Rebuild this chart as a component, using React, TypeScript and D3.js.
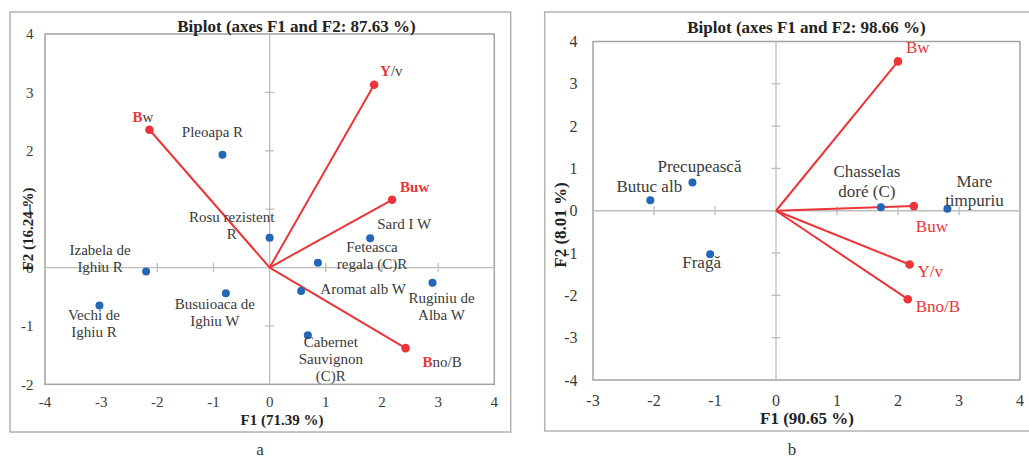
import React from "react";
import * as d3 from "d3";

// ---------- Data: panel a ----------
const aTitle = "Biplot (axes F1 and F2: 87.63 %)";
const aXTitle = "F1 (71.39 %)";
const aYTitle = "F2 (16.24 %)";
const aObsNames = [
  ["Pleoapa R"],
  ["Rosu rezistent", "R"],
  ["Izabela de", "Ighiu R"],
  ["Vechi de", "Ighiu R"],
  ["Busuioaca de", "Ighiu W"],
  ["Sard I W"],
  ["Feteasca", "regala (C)R"],
  ["Aromat alb W"],
  ["Ruginiu de", "Alba W"],
  ["Cabernet", "Sauvignon", "(C)R"],
];
const aObsX = [-0.84, 0.0, -2.2, -3.03, -0.78, 1.79, 0.86, 0.56, 2.9, 0.68];
const aObsY = [1.93, 0.51, -0.07, -0.65, -0.44, 0.5, 0.08, -0.4, -0.26, -1.16];
const aVarNames = ["Bw", "Y/v", "Buw", "Bno/B"];
const aVarX = [-2.14, 1.86, 2.18, 2.42];
const aVarY = [2.36, 3.13, 1.16, -1.38];
const aXTicks = [-4, -3, -2, -1, 0, 1, 2, 3, 4];
const aYTicks = [-2, -1, 0, 1, 2, 3, 4];

// ---------- Data: panel b ----------
const bTitle = "Biplot (axes F1 and F2: 98.66 %)";
const bXTitle = "F1 (90.65 %)";
const bYTitle = "F2 (8.01 %)";
const bObsNames = [
  ["Butuc alb"],
  ["Precupească"],
  ["Chasselas", "doré (C)"],
  ["Mare", "timpuriu"],
  ["Fragă"],
];
const bObsX = [-2.06, -1.37, 1.72, 2.81, -1.08];
const bObsY = [0.25, 0.67, 0.08, 0.05, -1.03];
const bVarNames = ["Bw", "Buw", "Y/v", "Bno/B"];
const bVarX = [2.0, 2.26, 2.19, 2.16];
const bVarY = [3.53, 0.11, -1.27, -2.09];
const bXTicks = [-3, -2, -1, 0, 1, 2, 3, 4];
const bYTicks = [-4, -3, -2, -1, 0, 1, 2, 3, 4];

// ---------- Layout (pixel offsets, styles) ----------
const RED = "#ec3439";
const BLUE = "#2467b8";
const TEXT = "#3a3a3a";
const SERIF = "'Liberation Serif', 'Times New Roman', serif";

type PanelCfg = {
  outer: [number, number, number, number];
  plot: [number, number, number, number];
  xDomain: [number, number];
  yDomain: [number, number];
  title: string;
  xTitle: string;
  yTitle: string;
  obsNames: string[][];
  obsX: number[];
  obsY: number[];
  varNames: string[];
  varX: number[];
  varY: number[];
  xTicks: number[];
  yTicks: number[];
  obsOff: [number, number][];
  varOff: [number, number][];
  varHi: number[];
  varBold: boolean;
  labelSize: number;
  lineH: number;
  tickSize: number;
  axisTitleSize: number;
  yTitlePos: [number, number];
  yTickRight: number;
  xTickBase: number;
  xTitleBase: number;
  titleBase: number;
  titleX: number;
  xTitleX: number;
  caption: string;
  captionX: number;
};

const panelA: PanelCfg = {
  outer: [10, 12, 510.7, 432],
  plot: [45, 34, 494.3, 384.3],
  xDomain: [-4, 4],
  yDomain: [-2, 4],
  title: aTitle,
  xTitle: aXTitle,
  yTitle: aYTitle,
  obsNames: aObsNames,
  obsX: aObsX,
  obsY: aObsY,
  varNames: aVarNames,
  varX: aVarX,
  varY: aVarY,
  xTicks: aXTicks,
  yTicks: aYTicks,
  obsOff: [
    [-10, -18],
    [-38, -16],
    [-46, -17],
    [-5.5, 15],
    [-11, 16],
    [34, -9],
    [54, -11],
    [62, 3],
    [9, 20],
    [23, 12],
  ],
  varOff: [
    [-17, -8],
    [6, -9],
    [8, -8],
    [17, 19],
  ],
  varHi: [1, 1, 3, 1],
  varBold: true,
  labelSize: 15,
  lineH: 17,
  tickSize: 15,
  axisTitleSize: 15,
  yTitlePos: [28, 229],
  yTickRight: 33.5,
  xTickBase: 407,
  xTitleBase: 425,
  titleBase: 32,
  titleX: 296.5,
  xTitleX: 282,
  caption: "a",
  captionX: 260,
};

const panelB: PanelCfg = {
  outer: [544.7, 12, 1034, 431],
  plot: [593, 41.5, 1020, 380],
  xDomain: [-3, 4],
  yDomain: [-4, 4],
  title: bTitle,
  xTitle: bXTitle,
  yTitle: bYTitle,
  obsNames: bObsNames,
  obsX: bObsX,
  obsY: bObsY,
  varNames: bVarNames,
  varX: bVarX,
  varY: bVarY,
  xTicks: bXTicks,
  yTicks: bYTicks,
  obsOff: [
    [-1, -8],
    [7, -10],
    [-14, -30],
    [27, -22],
    [-8.5, 14],
  ],
  varOff: [
    [8, -8],
    [2, 26],
    [8, 13],
    [8, 13],
  ],
  varHi: [99, 99, 99, 99],
  varBold: false,
  labelSize: 17,
  lineH: 19.5,
  tickSize: 16,
  axisTitleSize: 17,
  yTitlePos: [560, 225],
  yTickRight: 577.5,
  xTickBase: 406,
  xTitleBase: 424,
  titleBase: 33,
  titleX: 806.5,
  xTitleX: 807,
  caption: "b",
  captionX: 792,
};

function Panel({ c }: { c: PanelCfg }) {
  const [px0, py0, px1, py1] = c.plot;
  const [ox0, oy0, ox1, oy1] = c.outer;
  const x = d3.scaleLinear().domain(c.xDomain).range([px0, px1]);
  const y = d3.scaleLinear().domain(c.yDomain).range([py1, py0]);
  const x0 = x(0);
  const y0 = y(0);
  return (
    <g fontFamily={SERIF}>
      <rect x={ox0} y={oy0} width={ox1 - ox0} height={oy1 - oy0} fill="#fff" stroke="#b3b3b3" strokeWidth={1.5} />
      <rect x={px0} y={py0} width={px1 - px0} height={py1 - py0} fill="#fff" stroke="#a3a3a3" strokeWidth={1.5} />
      <line x1={px0} x2={px1} y1={y0} y2={y0} stroke="#bdbdbd" strokeWidth={1.3} />
      <line x1={x0} x2={x0} y1={py0} y2={py1} stroke="#bdbdbd" strokeWidth={1.3} />
      {c.xTicks.filter((t) => t !== 0 && t !== c.xDomain[0] && t !== c.xDomain[1]).map((t) => (
        <line key={"xt" + t} x1={x(t)} x2={x(t)} y1={y0 - 4.5} y2={y0 + 4.5} stroke="#bdbdbd" strokeWidth={1.3} />
      ))}
      {c.yTicks.filter((t) => t !== 0 && t !== c.yDomain[0] && t !== c.yDomain[1]).map((t) => (
        <line key={"yt" + t} x1={x0 - 4.5} x2={x0 + 4.5} y1={y(t)} y2={y(t)} stroke="#bdbdbd" strokeWidth={1.3} />
      ))}
      {c.xTicks.map((t) => (
        <text key={"xl" + t} x={x(t)} y={c.xTickBase} textAnchor="middle" fontSize={c.tickSize} fill={TEXT}>
          {t}
        </text>
      ))}
      {c.yTicks.map((t) => (
        <text key={"yl" + t} x={c.yTickRight} y={y(t)} dy="0.35em" textAnchor="end" fontSize={c.tickSize} fill={TEXT}>
          {t}
        </text>
      ))}
      <text x={c.titleX} y={c.titleBase} textAnchor="middle" fontSize={17} fontWeight="bold" fill="#222">
        {c.title}
      </text>
      <text x={c.xTitleX} y={c.xTitleBase} textAnchor="middle" fontSize={c.axisTitleSize} fontWeight="bold" fill="#222">
        {c.xTitle}
      </text>
      <text
        transform={`translate(${c.yTitlePos[0]},${c.yTitlePos[1]}) rotate(-90)`}
        textAnchor="middle"
        dy="0.35em"
        fontSize={c.axisTitleSize}
        fontWeight="bold"
        fill="#222"
      >
        {c.yTitle}
      </text>
      {c.varNames.map((n, i) => (
        <line key={"v" + n} x1={x0} y1={y0} x2={x(c.varX[i])} y2={y(c.varY[i])} stroke={RED} strokeWidth={2} />
      ))}
      {c.varNames.map((n, i) => (
        <circle key={"vc" + n} cx={x(c.varX[i])} cy={y(c.varY[i])} r={4.3} fill={RED} />
      ))}
      {c.varNames.map((n, i) => {
        const hi = Math.min(c.varHi[i], n.length);
        return (
          <text
            key={"vl" + n}
            x={x(c.varX[i]) + c.varOff[i][0]}
            y={y(c.varY[i]) + c.varOff[i][1]}
            fontSize={c.labelSize}
          >
            <tspan fill={RED} fontWeight={c.varBold ? "bold" : "normal"}>
              {n.slice(0, hi)}
            </tspan>
            {hi < n.length && <tspan fill={TEXT}>{n.slice(hi)}</tspan>}
          </text>
        );
      })}
      {c.obsNames.map((n, i) => (
        <circle key={"o" + i} cx={x(c.obsX[i])} cy={y(c.obsY[i])} r={4} fill={BLUE} />
      ))}
      {c.obsNames.map((lines, i) => (
        <text key={"ol" + i} fontSize={c.labelSize} fill={TEXT} textAnchor="middle">
          {lines.map((ln, j) => (
            <tspan
              key={j}
              x={x(c.obsX[i]) + c.obsOff[i][0]}
              y={y(c.obsY[i]) + c.obsOff[i][1] + j * c.lineH}
            >
              {ln}
            </tspan>
          ))}
        </text>
      ))}
      <text x={c.captionX} y={455} textAnchor="middle" fontSize={17} fill={TEXT}>
        {c.caption}
      </text>
    </g>
  );
}

export default function App() {
  return (
    <svg
      width={1029}
      height={459}
      viewBox="0 0 1029 459"
      style={{ position: "absolute", left: 0, top: 0, background: "#fff" }}
    >
      <rect x={0} y={0} width={1029} height={459} fill="#fff" />
      <Panel c={panelA} />
      <Panel c={panelB} />
    </svg>
  );
}
